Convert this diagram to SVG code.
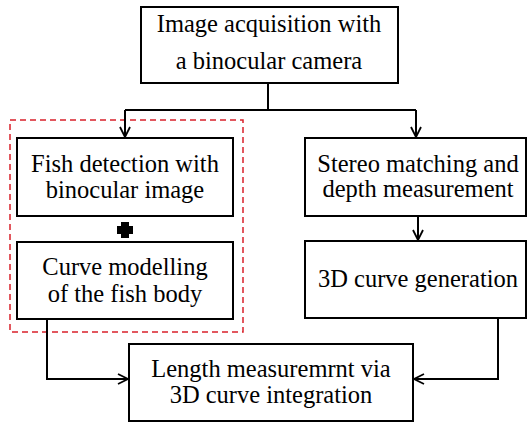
<svg xmlns="http://www.w3.org/2000/svg" width="528" height="425" viewBox="0 0 528 425">
<defs>
<marker id="arr" viewBox="0 0 12 12" refX="11" refY="6" markerWidth="12" markerHeight="12" markerUnits="userSpaceOnUse" orient="auto">
<path d="M1,1 L11,6 L1,11" fill="none" stroke="#000" stroke-width="1.8"/>
</marker>
<style>
.box{fill:#fff;stroke:#000;stroke-width:2}
.t{font-family:'Liberation Serif','DejaVu Serif',serif;font-size:24.5px;fill:#000;text-anchor:middle}
.c{fill:none;stroke:#000;stroke-width:2}
</style>
</defs>
<rect width="528" height="425" fill="#fff"/>
<rect x="10" y="120" width="233" height="212" fill="none" stroke="#d9212a" stroke-width="1.5" stroke-dasharray="6,4"/>
<g id="connectors">
<path class="c" d="M268,83 V110"/>
<path class="c" d="M125,110 H416"/>
<path class="c" d="M125,110 V137" marker-end="url(#arr)"/>
<path class="c" d="M416,110 V137" marker-end="url(#arr)"/>
<path class="c" d="M418,216 V240" marker-end="url(#arr)"/>
<path class="c" d="M47,319 V379 H128" marker-end="url(#arr)"/>
<path class="c" d="M498,318 V379 H414" marker-end="url(#arr)"/>
</g>
<g id="n1"><rect class="box" x="141" y="7" width="257" height="76"/>
<text class="t" x="269" y="32">Image acquisition with</text>
<text class="t" x="269" y="69">a binocular camera</text></g>
<g id="n2"><rect class="box" x="17" y="138" width="216" height="78"/>
<text class="t" x="125" y="172">Fish detection with</text>
<text class="t" x="125" y="198">binocular image</text></g>
<g id="plus"><path d="M121,222 h8 v4 h4 v8 h-4 v4 h-8 v-4 h-4 v-8 h4z" fill="#000"/></g>
<g id="n3"><rect class="box" x="17" y="242" width="216" height="77"/>
<text class="t" x="125" y="275">Curve modelling</text>
<text class="t" x="125" y="302">of the fish body</text></g>
<g id="n4"><rect class="box" x="305" y="138" width="221" height="78"/>
<text class="t" x="418" y="172">Stereo matching and</text>
<text class="t" x="418" y="197">depth measurement</text></g>
<g id="n5"><rect class="box" x="305" y="241" width="221" height="77"/>
<text class="t" x="418" y="287">3D curve generation</text></g>
<g id="n6"><rect class="box" x="129" y="344" width="284" height="77"/>
<text class="t" x="271" y="377">Length measuremrnt via</text>
<text class="t" x="271" y="403">3D curve integration</text></g>
</svg>
